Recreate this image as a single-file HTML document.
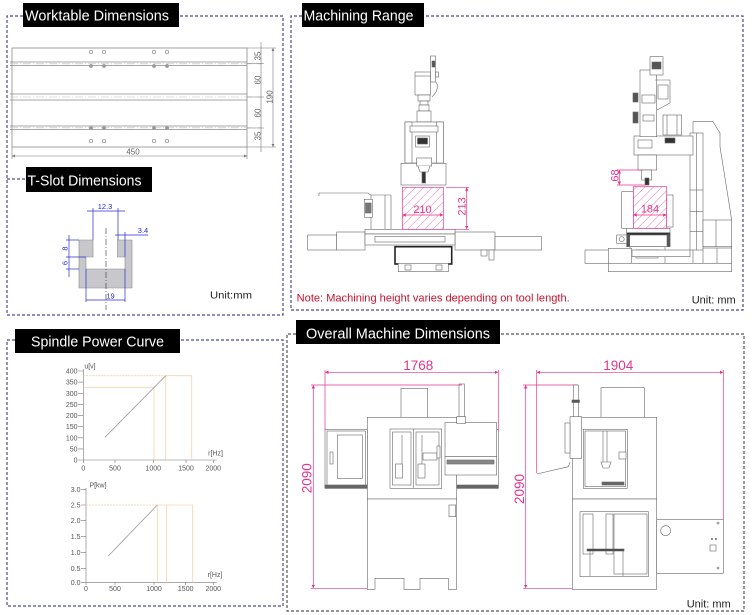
<!DOCTYPE html>
<html><head><meta charset="utf-8">
<style>
html,body{margin:0;padding:0;background:#fff;}
svg{display:block;}
text{font-family:"Liberation Sans",sans-serif;}
</style></head><body>
<svg width="753" height="615" viewBox="0 0 753 615" xmlns="http://www.w3.org/2000/svg">
<defs>
<pattern id="hatch" patternUnits="userSpaceOnUse" width="6" height="6" patternTransform="rotate(45)">
<line x1="0" y1="0" x2="0" y2="6" stroke="#e2358c" stroke-width="0.7"/>
</pattern>
<marker id="ag" viewBox="0 0 6 6" refX="6" refY="3" markerWidth="5" markerHeight="5" orient="auto-start-reverse"><path d="M0,0 L6,3 L0,6 Z" fill="#777"/></marker>
<marker id="ab" viewBox="0 0 6 6" refX="6" refY="3" markerWidth="5" markerHeight="5" orient="auto-start-reverse"><path d="M0,0 L6,3 L0,6 Z" fill="#2b2bd0"/></marker>
<marker id="ap" viewBox="0 0 6 6" refX="6" refY="3" markerWidth="5" markerHeight="5" orient="auto-start-reverse"><path d="M0,0 L6,3 L0,6 Z" fill="#e2358c"/></marker>
</defs>

<!-- Panel borders -->
<g fill="none" stroke="#4a4a94" stroke-width="1.2" stroke-dasharray="3 2">
<path d="M23,16 H7 V315 H283 V16 H179"/>
<path d="M7,179 H26"/>
<path d="M302,16 H291 V310 H743 V16 H424"/>
<path d="M15,340 H7 V606 H283 V340 H180"/>
</g>
<path d="M296,334 H287 V611 H744 V334 H500" fill="none" stroke="#555" stroke-width="1.2" stroke-dasharray="3 2"/>

<!-- Titles -->
<rect x="23" y="3" width="156" height="24" fill="#000"/>
<text x="25" y="20.5" font-size="15" fill="#fff" textLength="144" lengthAdjust="spacingAndGlyphs">Worktable Dimensions</text>
<rect x="26" y="167" width="126" height="25" fill="#000"/>
<text x="27.5" y="185.5" font-size="15" fill="#fff" textLength="114" lengthAdjust="spacingAndGlyphs">T-Slot Dimensions</text>
<rect x="302" y="3" width="122" height="24" fill="#000"/>
<text x="303.5" y="20.7" font-size="15" fill="#fff" textLength="110" lengthAdjust="spacingAndGlyphs">Machining Range</text>
<rect x="15" y="329" width="165" height="24" fill="#000"/>
<text x="31" y="346.7" font-size="15" fill="#fff" textLength="133" lengthAdjust="spacingAndGlyphs">Spindle Power Curve</text>
<rect x="296" y="320" width="204" height="24" fill="#000"/>
<text x="306" y="338.3" font-size="15" fill="#fff" textLength="184" lengthAdjust="spacingAndGlyphs">Overall Machine Dimensions</text>

<!-- Worktable -->
<g stroke="#8a8a8a" stroke-width="0.8" fill="none">
<rect x="12" y="48" width="235" height="99"/>
<line x1="10" y1="62" x2="247" y2="62"/>
<line x1="10" y1="65.5" x2="247" y2="65.5"/>
<line x1="10" y1="94" x2="247" y2="94"/>
<line x1="10" y1="100" x2="247" y2="100"/>
<line x1="10" y1="126" x2="247" y2="126"/>
<line x1="10" y1="129.5" x2="247" y2="129.5"/>
</g>
<g stroke="#bbb" stroke-width="0.6" stroke-dasharray="8 2 1 2" fill="none">
<line x1="10" y1="63.8" x2="262" y2="63.8"/>
<line x1="10" y1="97" x2="262" y2="97"/>
<line x1="10" y1="127.8" x2="262" y2="127.8"/>
</g>
<g stroke="#888" stroke-width="0.7" fill="none">
<circle cx="91" cy="52" r="1.7"/><circle cx="104" cy="52" r="1.7"/><circle cx="154" cy="52" r="1.7"/><circle cx="167" cy="52" r="1.7"/>
<circle cx="91" cy="141" r="1.7"/><circle cx="104" cy="141" r="1.7"/><circle cx="154" cy="141" r="1.7"/><circle cx="167" cy="141" r="1.7"/>
</g>
<g fill="#999">
<circle cx="91" cy="66" r="1.9"/><circle cx="104" cy="66" r="1.9"/><circle cx="154" cy="66" r="1.9"/><circle cx="167" cy="66" r="1.9"/>
<circle cx="91" cy="128" r="1.9"/><circle cx="104" cy="128" r="1.9"/><circle cx="154" cy="128" r="1.9"/><circle cx="167" cy="128" r="1.9"/>
</g>
<g stroke="#777" stroke-width="0.6" fill="none">
<line x1="247" y1="48" x2="276" y2="48"/>
<line x1="247" y1="63.5" x2="264" y2="63.5"/>
<line x1="247" y1="97" x2="264" y2="97"/>
<line x1="247" y1="128" x2="264" y2="128"/>
<line x1="247" y1="147" x2="276" y2="147"/>
<line x1="261" y1="42" x2="261" y2="152"/>
<line x1="273" y1="48" x2="273" y2="147" marker-start="url(#ag)" marker-end="url(#ag)"/>
<line x1="12" y1="147" x2="12" y2="159"/>
<line x1="247" y1="147" x2="247" y2="159"/>
<line x1="12" y1="156" x2="247" y2="156" marker-start="url(#ag)" marker-end="url(#ag)"/>
</g>
<g font-size="8" fill="#666" text-anchor="middle">
<text transform="translate(260.5,56) rotate(-90)">35</text>
<text transform="translate(260.5,80) rotate(-90)">60</text>
<text transform="translate(260.5,113) rotate(-90)">60</text>
<text transform="translate(260.5,136) rotate(-90)">35</text>
<text transform="translate(272.5,97) rotate(-90)">190</text>
<text x="133" y="154.5">450</text>
</g>

<!-- T-slot -->
<path d="M79,240 H93 V257 H86 V269 H125 V257 H117.5 V240 H132 V288 H79 Z" fill="#c8c8cc" stroke="#888" stroke-width="0.6"/>
<line x1="106" y1="228" x2="106" y2="310" stroke="#333" stroke-width="0.6" stroke-dasharray="6 2 1 2"/>
<g stroke="#2b2bd0" stroke-width="0.7" fill="none">
<line x1="93" y1="208" x2="93" y2="240"/>
<line x1="118" y1="208" x2="118" y2="240"/>
<line x1="87" y1="211" x2="125" y2="211"/>
<line x1="125" y1="232" x2="125" y2="257"/>
<line x1="115" y1="235" x2="148" y2="235"/>
<line x1="69" y1="235" x2="69" y2="277"/>
<line x1="66" y1="240" x2="79" y2="240"/>
<line x1="66" y1="257" x2="86" y2="257"/>
<line x1="66" y1="269" x2="79" y2="269"/>
<line x1="86" y1="269" x2="86" y2="302"/>
<line x1="125" y1="269" x2="125" y2="302"/>
<line x1="86" y1="300" x2="125" y2="300"/>
</g>
<g font-size="7.5" fill="#2b2bd0" text-anchor="middle">
<text x="105" y="209">12.3</text>
<text x="143" y="233">3.4</text>
<text transform="translate(67.5,248.5) rotate(-90)">8</text>
<text transform="translate(67.5,263) rotate(-90)">6</text>
<text x="110.5" y="298.5">19</text>
</g>
<text x="210" y="298.5" font-size="10.5" fill="#222" textLength="42" lengthAdjust="spacingAndGlyphs">Unit:mm</text>

<!-- Machining range: left machine -->
<g stroke="#666" stroke-width="0.6" fill="#fff">
<rect x="430.5" y="56" width="5" height="26"/>
<rect x="432" y="61" width="3" height="6" fill="#555"/>
<rect x="435.5" y="72" width="3" height="5"/>
<rect x="415" y="72" width="15.5" height="23"/>
<line x1="415" y1="76" x2="430.5" y2="76"/>
<path d="M436,82 L438,86 L436,92 L432,97" fill="none"/>
<rect x="418" y="95" width="12" height="6"/>
<rect x="420" y="101" width="8" height="4"/>
<rect x="419" y="105" width="10" height="6"/>
<rect x="417" y="111" width="14" height="11"/>
<rect x="405" y="122" width="38.3" height="41"/>
<rect x="405" y="122" width="7" height="41"/>
<rect x="436.3" y="122" width="7" height="41"/>
<rect x="410" y="126" width="28" height="6"/>
<rect x="415.5" y="136" width="14" height="11"/>
<rect x="417.5" y="138" width="10" height="6" fill="#333"/>
<rect x="401" y="163.3" width="45" height="21.7"/>
<rect x="416.7" y="158" width="15" height="8"/>
<path d="M418,166 L420,172 L428,172 L430,166"/>
<rect x="422" y="172" width="3.5" height="11" fill="#333"/>
<path d="M319,193 H368 L372,196" fill="none"/>
<line x1="319" y1="193" x2="319" y2="196"/>
<path d="M371,195 H391 V230 H371 Z"/>
<line x1="385" y1="195" x2="385" y2="230"/>
<rect x="364.3" y="199.3" width="8" height="18"/>
<rect x="365.5" y="203" width="5.6" height="10" fill="#777"/>
<rect x="307.7" y="235" width="29" height="15"/>
<rect x="336.7" y="232" width="28.3" height="18"/>
<rect x="455" y="232" width="40" height="18"/>
<rect x="495" y="236.7" width="46.7" height="13.3"/>
<rect x="365" y="229.3" width="90" height="4.7"/>
<rect x="365" y="234" width="90" height="11"/>
<rect x="375" y="236.5" width="70" height="5.5"/>
<rect x="395" y="246.7" width="56.7" height="17.3" stroke="#222" stroke-width="1.6"/>
<rect x="398.3" y="263.3" width="50" height="8.4"/>
<rect x="405" y="265" width="6" height="5"/>
<rect x="436" y="265" width="6" height="5"/>
<rect x="481" y="250" width="6" height="6"/>
<rect x="489" y="250" width="5" height="10"/>
</g>
<rect x="402.3" y="187.3" width="41" height="42" fill="url(#hatch)" stroke="#e2358c" stroke-width="0.7"/>

<!-- Machining range: right machine -->
<g stroke="#666" stroke-width="0.6" fill="#fff">
<path d="M693,121.7 H713 L720,133 V146.7 L731.7,220 V271.7 H693 Z"/>
<rect x="690" y="133" width="13" height="117"/>
<line x1="696.5" y1="133" x2="696.5" y2="250"/>
<line x1="690" y1="190" x2="703" y2="190"/>
<line x1="690" y1="211.7" x2="703" y2="211.7"/>
<line x1="690" y1="231.7" x2="703" y2="231.7"/>
<rect x="703" y="220" width="28.7" height="26.7"/>
<rect x="703" y="248" width="28.7" height="22"/>
<line x1="716" y1="220" x2="716" y2="246.7"/>
<line x1="717" y1="248" x2="717" y2="270"/>
<rect x="634" y="136" width="59" height="19"/>
<rect x="665" y="138" width="10" height="5" fill="#333"/>
<rect x="638" y="140" width="14" height="8"/>
<rect x="663" y="115" width="18.7" height="20"/>
<line x1="667" y1="115" x2="667" y2="135"/>
<line x1="677" y1="115" x2="677" y2="135"/>
<rect x="640" y="70" width="16.7" height="66.7"/>
<rect x="642" y="95" width="13" height="8"/>
<rect x="643" y="115" width="11" height="6"/>
<rect x="650" y="56.7" width="13" height="18.3"/>
<rect x="652" y="62" width="9" height="7" fill="#555"/>
<path d="M655,80 H670 V103 L657,110" fill="none"/>
<rect x="658" y="85" width="10" height="14"/>
<rect x="633" y="93" width="5" height="9" fill="#555"/>
<rect x="633" y="112" width="5" height="11" fill="#555"/>
<rect x="638" y="155" width="18.7" height="15"/>
<rect x="641.7" y="170" width="10" height="10"/>
<rect x="645" y="178" width="4" height="7" fill="#333"/>
<rect x="621.7" y="191.7" width="11.6" height="36.6"/>
<rect x="666.7" y="195" width="6.3" height="32"/>
<rect x="626.7" y="228.3" width="43.3" height="18.4"/>
<rect x="626.7" y="232.7" width="43.3" height="2.3" fill="#333"/>
<rect x="626.7" y="235" width="3" height="11.7" fill="#555"/>
<rect x="667" y="235" width="3" height="11.7" fill="#555"/>
<rect x="616.7" y="235" width="10" height="8.3"/>
<circle cx="621.7" cy="239.2" r="2.5"/>
<rect x="630" y="246.7" width="35" height="16.6"/>
<rect x="636" y="250" width="22" height="8"/>
<rect x="585" y="250" width="23.3" height="13.3"/>
<rect x="608.3" y="248.3" width="23.3" height="15"/>
<rect x="632" y="250" width="58" height="6.7"/>
<rect x="608.3" y="263.3" width="123.4" height="8.4"/>
</g>
<rect x="633.3" y="186.7" width="33.4" height="41.6" fill="url(#hatch)" stroke="#e2358c" stroke-width="0.7"/>

<g stroke="#e2358c" stroke-width="0.7" fill="none">
<line x1="402.3" y1="215" x2="443.3" y2="215" marker-start="url(#ap)" marker-end="url(#ap)"/>
<line x1="446" y1="187.3" x2="469" y2="187.3"/>
<line x1="446" y1="229.3" x2="469" y2="229.3"/>
<line x1="466.7" y1="187.3" x2="466.7" y2="229.3" marker-start="url(#ap)" marker-end="url(#ap)"/>
<line x1="619.3" y1="170" x2="619.3" y2="185" marker-start="url(#ap)" marker-end="url(#ap)"/>
<line x1="617" y1="170" x2="643" y2="170"/>
<line x1="617" y1="185" x2="646" y2="185"/>
<line x1="633.3" y1="215" x2="666.7" y2="215" marker-start="url(#ap)" marker-end="url(#ap)"/>
</g>
<g font-size="11" fill="#e2358c" text-anchor="middle">
<text x="422.5" y="213">210</text>
<text transform="translate(465.5,206.5) rotate(-90)">213</text>
<text transform="translate(618.5,175.5) rotate(-90)">68</text>
<text x="650" y="212.5">184</text>
</g>

<text x="296.7" y="301.5" font-size="11" fill="#c8102e" textLength="273" lengthAdjust="spacingAndGlyphs">Note: Machining height varies depending on tool length.</text>
<text x="691.7" y="303.5" font-size="11" fill="#222" textLength="44" lengthAdjust="spacingAndGlyphs">Unit: mm</text>

<!-- Spindle power curve -->
<g stroke="#777" stroke-width="0.6" fill="none">
<line x1="83.3" y1="369" x2="83.3" y2="460"/>
<line x1="83.3" y1="460" x2="216.7" y2="460"/>
<path d="M78,371 H83.3 M78,382.1 H83.3 M78,393.3 H83.3 M78,404.4 H83.3 M78,415.6 H83.3 M78,426.7 H83.3 M78,437.8 H83.3 M78,448.9 H83.3 M78,460 H83.3"/>
<path d="M83.3,460 V463 M115,460 V463 M153.3,460 V463 M186,460 V463 M213.3,460 V463"/>
<line x1="86" y1="488" x2="86" y2="582.3"/>
<line x1="86" y1="582.3" x2="216.7" y2="582.3"/>
<path d="M81,489.3 H86 M81,505 H86 M81,520.7 H86 M81,536.3 H86 M81,552.7 H86 M81,568.7 H86 M81,582.3 H86"/>
<path d="M86,582.3 V585 M115,582.3 V585 M154,582.3 V585 M185.7,582.3 V585 M213.3,582.3 V585"/>
</g>
<g stroke="#f6d3ab" stroke-width="0.8" fill="none">
<line x1="83.3" y1="375.7" x2="165.7" y2="375.7" stroke-dasharray="2 1"/>
<line x1="165.7" y1="375.7" x2="191.7" y2="375.7"/>
<line x1="83.3" y1="387.3" x2="154" y2="387.3"/>
<line x1="154" y1="387.3" x2="154" y2="460"/>
<line x1="165.7" y1="375.7" x2="165.7" y2="460"/>
<line x1="191.7" y1="375.7" x2="191.7" y2="460"/>
<line x1="86" y1="505" x2="157.3" y2="505" stroke-dasharray="2 1"/>
<line x1="157.3" y1="505" x2="192.7" y2="505"/>
<line x1="157.3" y1="505" x2="157.3" y2="582.3"/>
<line x1="166.7" y1="505" x2="166.7" y2="582.3"/>
<line x1="192.7" y1="505" x2="192.7" y2="582.3"/>
</g>
<g stroke="#999" stroke-width="0.8">
<line x1="105" y1="437.3" x2="165.7" y2="375.7"/>
<line x1="108.3" y1="556" x2="157.3" y2="505"/>
</g>
<g font-size="7" fill="#555" text-anchor="end">
<text x="77.5" y="373.5">400</text>
<text x="77.5" y="384.6">350</text>
<text x="77.5" y="395.8">300</text>
<text x="77.5" y="406.9">250</text>
<text x="77.5" y="418.1">200</text>
<text x="77.5" y="429.2">150</text>
<text x="77.5" y="440.3">100</text>
<text x="77.5" y="451.4">50</text>
<text x="77.5" y="462.5">0</text>
<text x="80.5" y="491.8">3.0</text>
<text x="80.5" y="507.5">2.5</text>
<text x="80.5" y="523.2">2.0</text>
<text x="80.5" y="538.8">1.5</text>
<text x="80.5" y="555.2">1.0</text>
<text x="80.5" y="571.2">0.5</text>
<text x="80.5" y="584.8">0.0</text>
</g>
<g font-size="7" fill="#555" text-anchor="middle">
<text x="83.3" y="470.5">0</text>
<text x="115" y="470.5">500</text>
<text x="153.3" y="470.5">1000</text>
<text x="186" y="470.5">1500</text>
<text x="213.3" y="470.5">2000</text>
<text x="86" y="591">0</text>
<text x="115" y="591">500</text>
<text x="154" y="591">1000</text>
<text x="185.7" y="591">1500</text>
<text x="213.3" y="591">2000</text>
<text x="215.5" y="455.5">r[Hz]</text>
<text x="215" y="577">r[Hz]</text>
<text x="90" y="368.5">u[v]</text>
<text x="98" y="487.5">P[kw]</text>
</g>

<!-- Overall machine: left -->
<g stroke="#666" stroke-width="0.6" fill="#fff">
<rect x="401" y="388.3" width="26.7" height="29"/>
<rect x="367.3" y="417.3" width="89.4" height="81.7"/>
<path d="M367.3,499 V589.3 H375 V578.3 H404 V589.3 H420 V578.3 H448.3 V589.3 H456.7 V499 Z"/>
<rect x="325" y="429.3" width="42.3" height="59"/>
<rect x="327" y="431" width="38.3" height="55"/>
<rect x="337.3" y="435" width="25" height="43.3"/>
<rect x="330" y="452" width="3" height="12"/>
<rect x="325" y="485" width="42.3" height="3.3" fill="#666"/>
<rect x="456.7" y="429.3" width="41.6" height="59"/>
<rect x="456.7" y="485" width="41.6" height="3.3" fill="#666"/>
<rect x="390" y="429" width="51.7" height="59.3"/>
<line x1="413.3" y1="429" x2="413.3" y2="488.3"/>
<rect x="392.5" y="432" width="18.5" height="53"/>
<rect x="416" y="432" width="23" height="53"/>
<rect x="395.5" y="464" width="7" height="14"/>
<rect x="418" y="464" width="7" height="14"/>
<line x1="402" y1="435" x2="402" y2="464"/>
<line x1="422" y1="435" x2="422" y2="464"/>
<rect x="423" y="453" width="14" height="7"/>
<rect x="437" y="446" width="3" height="12"/>
<rect x="445" y="422.7" width="51.7" height="34"/>
<rect x="445" y="456.7" width="51.7" height="18.3"/>
<rect x="447" y="460" width="47" height="4" fill="#888"/>
<rect x="459" y="384" width="5.3" height="32.7"/>
<rect x="456.7" y="416.7" width="9" height="6.6"/>
<rect x="449" y="505" width="6.7" height="11.7"/>
</g>
<g stroke="#e2358c" stroke-width="0.7" fill="none">
<line x1="325" y1="372.3" x2="498.3" y2="372.3" marker-start="url(#ap)" marker-end="url(#ap)"/>
<line x1="325" y1="370" x2="325" y2="430"/>
<line x1="498.3" y1="370" x2="498.3" y2="430"/>
<line x1="313.3" y1="385" x2="313.3" y2="588.3" marker-start="url(#ap)" marker-end="url(#ap)"/>
<line x1="311" y1="385" x2="462" y2="385"/>
<line x1="311" y1="588.3" x2="367" y2="588.3"/>
<line x1="536.7" y1="372.3" x2="723.3" y2="372.3" marker-start="url(#ap)" marker-end="url(#ap)"/>
<line x1="536.7" y1="370" x2="536.7" y2="473"/>
<line x1="723.3" y1="370" x2="723.3" y2="520"/>
<line x1="525.7" y1="385" x2="525.7" y2="588.3" marker-start="url(#ap)" marker-end="url(#ap)"/>
<line x1="523" y1="385" x2="578" y2="385"/>
<line x1="523" y1="588.3" x2="572" y2="588.3"/>
</g>
<g font-size="14" fill="#e2358c" text-anchor="middle">
<text x="418.3" y="370" textLength="30" lengthAdjust="spacingAndGlyphs">1768</text>
<text x="618.3" y="370" textLength="30" lengthAdjust="spacingAndGlyphs">1904</text>
<text transform="translate(311.5,478.3) rotate(-90)" textLength="30" lengthAdjust="spacingAndGlyphs">2090</text>
<text transform="translate(524,489) rotate(-90)" textLength="30" lengthAdjust="spacingAndGlyphs">2090</text>
</g>

<!-- Overall machine: right -->
<g stroke="#666" stroke-width="0.6" fill="#fff">
<rect x="601" y="387.7" width="43.3" height="29.6"/>
<rect x="572.3" y="417.3" width="84.4" height="81.7"/>
<rect x="572.3" y="499" width="84.4" height="90.3"/>
<rect x="583.3" y="429.3" width="44" height="59"/>
<rect x="585" y="431" width="40.6" height="55.6"/>
<line x1="603" y1="431" x2="603" y2="462"/>
<line x1="607" y1="431" x2="607" y2="462"/>
<path d="M601,462 H611 L609,468 H603 Z"/>
<rect x="619" y="452" width="7" height="7"/>
<rect x="602" y="482" width="22" height="3" fill="#666"/>
<rect x="580" y="511.7" width="68.3" height="65"/>
<rect x="583" y="514" width="10" height="40"/>
<rect x="606" y="514" width="7" height="40"/>
<rect x="614" y="514" width="33" height="60"/>
<rect x="587" y="549" width="37" height="2" fill="#444"/>
<line x1="590" y1="551" x2="590" y2="576"/>
<line x1="623" y1="551" x2="623" y2="576"/>
<rect x="656.7" y="519.3" width="66.6" height="54"/>
<circle cx="665.7" cy="530.7" r="5"/>
<rect x="710" y="545" width="6" height="6"/>
<circle cx="718" cy="523" r="1"/>
<circle cx="718" cy="568" r="1"/>
<circle cx="712" cy="539" r="0.8"/>
<circle cx="716" cy="539" r="0.8"/>
<rect x="570" y="416.7" width="11.7" height="41.6"/>
<rect x="565" y="423" width="5" height="30"/>
<path d="M536.7,474 L568.3,466.7 L570,462" fill="none"/>
<rect x="573.3" y="385" width="5" height="31.7"/>
<rect x="572" y="400" width="7.5" height="2.5" fill="#555"/>
</g>
<text x="686.7" y="607.5" font-size="11" fill="#222" textLength="44" lengthAdjust="spacingAndGlyphs">Unit: mm</text>
</svg>
</body></html>
